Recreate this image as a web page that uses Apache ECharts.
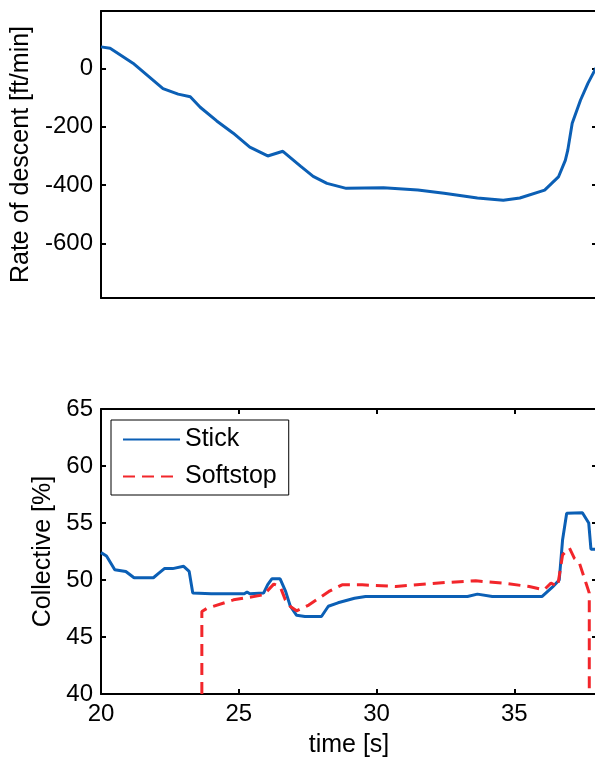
<!DOCTYPE html>
<html>
<head>
<meta charset="utf-8">
<script src="https://cdn.jsdelivr.net/npm/echarts@6/dist/echarts.min.js"></script>
<style>
  html, body { margin: 0; padding: 0; background: #fff; }
  #main { width: 595px; height: 758px; }
</style>
</head>
<body>
<div id="main"></div>
<script>
// rate of descent (upper panel)
const rodTime = [20.0, 20.33, 21.16, 22.25, 22.8, 23.24, 23.6, 24.2, 24.8, 25.4, 26.05, 26.6, 27.24, 27.7, 28.2, 28.9, 30.25, 31.5, 32.45, 33.66, 34.6, 35.2, 36.1, 36.6, 36.85, 36.94, 37.1, 37.4, 37.67, 37.96, 38.0];
const rodValue = [74, 69, 18, -69, -88, -97, -133, -180, -222, -270, -300, -284, -335, -370, -394, -411, -409, -417, -428, -444, -452, -444, -417, -372, -315, -280, -188, -109, -51, 1, 8];
const rodTicks = [0, -200, -400, -600];

// collective (lower panel)
const stickTime = [20.0, 20.2, 20.5, 20.9, 21.2, 21.9, 22.1, 22.3, 22.6, 23.0, 23.2, 23.33, 24.0, 25.2, 25.3, 25.4, 25.9, 26.05, 26.2, 26.5, 26.7, 26.87, 27.1, 27.4, 28.0, 28.25, 28.6, 29.2, 29.6, 33.3, 33.66, 34.2, 36.0, 36.39, 36.63, 36.75, 36.9, 37.47, 37.7, 37.78, 38.0];
const stickValue = [52.4, 52.1, 50.9, 50.75, 50.2, 50.2, 50.6, 51.0, 51.0, 51.2, 50.75, 48.85, 48.8, 48.8, 48.95, 48.8, 48.85, 49.6, 50.1, 50.1, 49.0, 47.7, 46.9, 46.8, 46.8, 47.7, 48.0, 48.4, 48.55, 48.55, 48.76, 48.55, 48.55, 49.4, 50.0, 53.5, 55.86, 55.9, 55.0, 52.7, 52.7];
const softTime = [23.66, 23.66, 23.84, 24.81, 25.54, 25.9, 26.27, 26.5, 26.69, 26.87, 27.1, 27.54, 28.27, 28.75, 29.48, 30.7, 32.5, 33.6, 34.57, 35.54, 36.08, 36.33, 36.57, 36.75, 37.0, 37.18, 37.36, 37.6, 37.72, 37.72];
const softValue = [40, 47.24, 47.5, 48.26, 48.55, 48.7, 49.64, 49.43, 48.26, 47.68, 47.3, 47.8, 49.0, 49.58, 49.58, 49.43, 49.78, 49.93, 49.73, 49.43, 49.14, 49.73, 49.43, 52.2, 52.8, 51.9, 51.5, 49.73, 48.85, 40];

const seriesNames = ['Stick', 'Softstop'];

const pair = (xs, ys) => xs.map((x, i) => [x, ys[i]]);

const FONT = 'Liberation Sans';
const axisLine = { show: true, onZero: false, lineStyle: { color: '#000', width: 2 } };
const tickIn = { show: true, inside: true, length: 5, lineStyle: { color: '#000', width: 2 } };
const nameStyle = { fontFamily: FONT, fontSize: 25, color: '#000' };
const labelStyle = { color: '#000', fontFamily: FONT, fontSize: 24 };

const chart = echarts.init(document.getElementById('main'));

const option = {
  animation: false,
  backgroundColor: '#fff',
  textStyle: { fontFamily: FONT },
  // the right edge of both boxes sits just outside the picture
  grid: [
    { left: 101, top: 11, width: 496, height: 287, outerBoundsMode: 'none' },
    { left: 101, top: 409, width: 496, height: 285, outerBoundsMode: 'none' }
  ],
  legend: {
    data: seriesNames,
    orient: 'vertical',
    left: 111,
    top: 420,
    padding: [7, 12, 6, 11],
    itemWidth: 57,
    itemHeight: 14,
    itemGap: 12,
    backgroundColor: '#fff',
    borderColor: '#000',
    borderWidth: 1,
    itemStyle: { color: 'rgba(0,0,0,0)', borderWidth: 0 },
    textStyle: { fontFamily: FONT, fontSize: 25, color: '#000' }
  },
  xAxis: [
    // upper panel: box only, no ticks
    { gridIndex: 0, type: 'value', min: 20, max: 38, axisLine, axisTick: { show: false }, axisLabel: { show: false }, splitLine: { show: false } },
    { gridIndex: 0, type: 'value', position: 'top', min: 20, max: 38, axisLine, axisTick: { show: false }, axisLabel: { show: false }, splitLine: { show: false } },
    // lower panel
    {
      gridIndex: 1, type: 'value', min: 20, max: 38, interval: 5,
      name: 'time [s]', nameLocation: 'middle', nameGap: 39, nameTextStyle: nameStyle,
      axisLine, axisTick: tickIn,
      axisLabel: Object.assign({ margin: 8, showMaxLabel: false }, labelStyle),
      splitLine: { show: false }
    },
    { gridIndex: 1, type: 'value', position: 'top', min: 20, max: 38, interval: 5, axisLine, axisTick: tickIn, axisLabel: { show: false }, splitLine: { show: false } }
  ],
  yAxis: [
    {
      gridIndex: 0, type: 'value', min: -787, max: 197,
      name: 'Rate of descent [ft/min]', nameLocation: 'middle', nameGap: 65, nameTextStyle: nameStyle,
      axisLine,
      axisTick: Object.assign({}, tickIn, { customValues: rodTicks }),
      axisLabel: Object.assign({ customValues: rodTicks, margin: 8 }, labelStyle),
      splitLine: { show: false }
    },
    { gridIndex: 0, type: 'value', position: 'right', min: -787, max: 197, axisLine, axisTick: Object.assign({}, tickIn, { customValues: rodTicks }), axisLabel: { show: false }, splitLine: { show: false } },
    {
      gridIndex: 1, type: 'value', min: 40, max: 65, interval: 5,
      name: 'Collective [%]', nameLocation: 'middle', nameGap: 45, nameTextStyle: nameStyle,
      axisLine, axisTick: tickIn,
      axisLabel: Object.assign({ margin: 8 }, labelStyle),
      splitLine: { show: false }
    },
    { gridIndex: 1, type: 'value', position: 'right', min: 40, max: 65, interval: 5, axisLine, axisTick: tickIn, axisLabel: { show: false }, splitLine: { show: false } }
  ],
  series: [
    {
      name: 'Rate of descent', type: 'line', xAxisIndex: 0, yAxisIndex: 0,
      symbol: 'none', data: pair(rodTime, rodValue),
      lineStyle: { color: '#0b5fb5', width: 3 }, itemStyle: { color: '#0b5fb5' }
    },
    {
      name: seriesNames[0], type: 'line', xAxisIndex: 2, yAxisIndex: 2,
      symbol: 'none', data: pair(stickTime, stickValue),
      lineStyle: { color: '#0b5fb5', width: 3 }, itemStyle: { color: '#0b5fb5' }
    },
    {
      name: seriesNames[1], type: 'line', xAxisIndex: 2, yAxisIndex: 2,
      symbol: 'none', data: pair(softTime, softValue), z: 3,
      lineStyle: { color: '#f2262b', width: 3, type: [12, 7] }, itemStyle: { color: '#f2262b' }
    }
  ]
};

chart.setOption(option);
</script>
</body>
</html>
